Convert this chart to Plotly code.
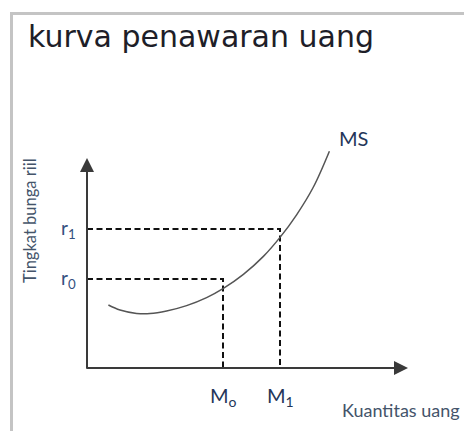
import plotly.graph_objects as go

# --- data (economic units: origin at axis intersection) ---
ms_x = [1.07, 1.65, 2.48, 3.15, 3.98, 4.98, 5.98, 6.82, 7.82, 8.82, 9.65, 10.48, 11.32, 12.12]
ms_y = [3.15, 2.90, 2.73, 2.72, 2.85, 3.12, 3.52, 3.98, 4.68, 5.58, 6.53, 7.66, 9.05, 10.84]
m_vals = [6.8, 9.65]          # M0, M1
r_vals = [4.45, 6.95]         # r0, r1
m_labels = ["M<sub>o</sub>", "M<sub>1</sub>"]
r_labels = ["r<sub>0</sub>", "r<sub>1</sub>"]
x_axis_end = 16.05
y_axis_end = 10.5
title_text = "kurva penawaran uang"
x_title = "Kuantitas uang"
y_title = "Tingkat bunga riil"
curve_label = "MS"

W, H, OFF = 464, 423, 8   # page body has an 8px margin

fig = go.Figure()

# dashed guide lines
for m, r in zip(m_vals, r_vals):
    fig.add_trace(go.Scatter(x=[0, m, m], y=[r, r, 0], mode="lines",
                             line=dict(color="#111111", width=2, dash="6px,3.5px"),
                             hoverinfo="skip", showlegend=False))

# MS curve
fig.add_trace(go.Scatter(x=ms_x, y=ms_y, mode="lines",
                         line=dict(color="#555555", width=1.5, shape="spline", smoothing=1),
                         hoverinfo="skip", showlegend=False))

# axes with arrowheads
axis_col = "#3a3a3a"
fig.add_annotation(x=x_axis_end, y=0, ax=-0.1, ay=0, xref="x", yref="y", axref="x", ayref="y",
                   text="", showarrow=True, arrowhead=2, arrowsize=1.4, arrowwidth=2, arrowcolor=axis_col)
fig.add_annotation(x=0, y=y_axis_end, ax=0, ay=-0.1, xref="x", yref="y", axref="x", ayref="y",
                   text="", showarrow=True, arrowhead=2, arrowsize=1.4, arrowwidth=2, arrowcolor=axis_col)

label_col = "#243659"
for m, lab in zip(m_vals, m_labels):
    fig.add_annotation(x=m, y=-1.4, text=lab, showarrow=False, xanchor="center", yanchor="middle",
                       font=dict(family="Lato", size=20, color=label_col))
for r, lab in zip(r_vals, r_labels):
    fig.add_annotation(x=-0.45, y=r, text=lab, showarrow=False, xanchor="right", yanchor="middle",
                       font=dict(family="Lato", size=19, color="#34507e"))

fig.add_annotation(x=12.5, y=11.5, text=curve_label, showarrow=False, xanchor="left", yanchor="middle",
                   font=dict(family="Lato", size=20, color=label_col))
fig.add_annotation(x=15.7, y=-2.1, text=x_title, showarrow=False, xanchor="center", yanchor="middle",
                   font=dict(family="Lato", size=18, color="#44546a"))
fig.add_annotation(x=-2.85, y=7.35, text=y_title, showarrow=False, textangle=-90,
                   xanchor="center", yanchor="middle",
                   font=dict(family="Lato", size=16.5, color="#44546a"))

fig.add_annotation(x=(26 - OFF) / W, y=1 - (37 - OFF) / H, xref="paper", yref="paper", text=title_text,
                   showarrow=False, xanchor="left", yanchor="middle",
                   font=dict(family="DejaVu Sans", size=30, color="#1e1e28"))

# frame border (left and top)
fig.add_shape(type="line", xref="paper", yref="paper", x0=(11.5 - OFF) / W, x1=(11.5 - OFF) / W,
              y0=-0.05, y1=1 - (12 - OFF) / H, line=dict(color="#c4c4c4", width=3))
fig.add_shape(type="line", xref="paper", yref="paper", x0=(10 - OFF) / W, x1=1.05,
              y0=1 - (13.5 - OFF) / H, y1=1 - (13.5 - OFF) / H, line=dict(color="#c4c4c4", width=3))

fig.update_layout(width=W, height=H, margin=dict(l=0, r=0, t=0, b=0),
                  paper_bgcolor="white", plot_bgcolor="white",
                  xaxis=dict(range=[(OFF - 87) / 20, (472 - 87) / 20], visible=False, fixedrange=True),
                  yaxis=dict(range=[(368 - 431) / 20, (368 - OFF) / 20], visible=False, fixedrange=True))

fig.write_html("out.html")
